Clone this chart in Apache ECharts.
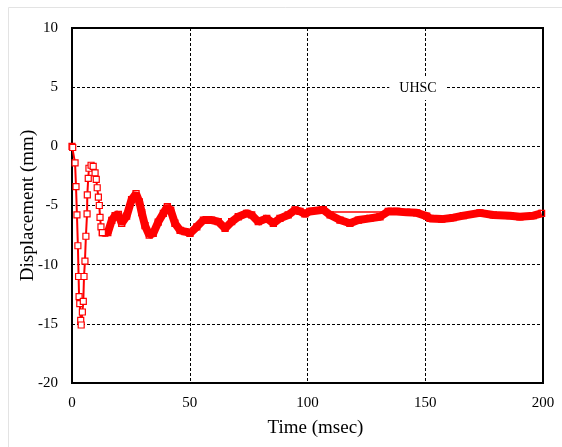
<!DOCTYPE html>
<html>
<head>
<meta charset="utf-8">
<script src="https://cdn.jsdelivr.net/npm/echarts@6/dist/echarts.min.js"></script>
<style>
  html, body { margin: 0; padding: 0; background: #fff; }
  #chart { width: 562px; height: 447px; }
</style>
</head>
<body>
<div id="chart"></div>
<script>
'use strict';

// early part: first big swing, thin line with hollow squares
const timeEarly = [0, 0.3, 1.3, 1.7, 2.1, 2.5, 2.8, 3.0, 3.3, 3.7, 3.9, 4.4, 4.8, 5.1, 5.5, 5.9, 6.4, 6.5, 6.9, 7.2, 8.1, 9.0, 9.8, 10.3, 10.7, 11.2, 11.6, 11.9, 12.3, 12.9];
const dispEarly = [0, -0.1, -1.4, -3.4, -5.8, -8.4, -11.0, -12.7, -13.3, -14.7, -15.1, -14.0, -13.1, -11.0, -9.7, -7.6, -5.7, -4.1, -2.7, -1.85, -1.6, -1.7, -2.25, -2.8, -3.5, -4.3, -5.0, -6.0, -6.8, -7.3];

// rest of the record: dense markers, drawn as a thick band
const timeLate = [12.9, 14, 15.2, 16.9, 18.3, 19.7, 21.1, 23.2, 25.3, 27.2, 28.6, 29.6, 31, 32.8, 34.5, 36.6, 38.8, 40.5, 41.9, 43.7, 45.9, 48, 50.1, 53, 55.8, 59.3, 62.1, 65, 67.8, 70.6, 74.2, 76.3, 79.1, 82.7, 85.5, 88.3, 91.8, 94.7, 96.8, 98.9, 101, 106.7, 109.6, 113.8, 118, 121.6, 126.5, 130.8, 134.3, 137.9, 142.1, 146.4, 150.6, 152, 157, 161.9, 166.2, 173.2, 178.9, 186, 190.2, 195.9, 199.4];
const dispLate = [-7.3, -7.3, -7.3, -6.25, -5.85, -5.75, -6.5, -5.9, -4.5, -4.0, -4.7, -5.6, -6.7, -7.5, -7.35, -6.4, -5.66, -5.1, -5.4, -6.5, -7.1, -7.2, -7.35, -6.8, -6.23, -6.23, -6.37, -6.93, -6.37, -5.95, -5.66, -5.8, -6.37, -6.09, -6.5, -6.09, -5.8, -5.38, -5.5, -5.7, -5.5, -5.36, -5.8, -6.23, -6.5, -6.23, -6.09, -5.95, -5.5, -5.5, -5.58, -5.62, -5.9, -6.09, -6.15, -6.03, -5.86, -5.62, -5.8, -5.86, -5.95, -5.86, -5.66];

// thin straight segment visible above the dip near 110-132 ms
const timeBridge = [110, 132];
const dispBridge = [-5.55, -5.55];

const xTicks = [0, 50, 100, 150, 200];
const yTicks = [-20, -15, -10, -5, 0, 5, 10];

const pairs = (xs, ys) => xs.map((x, i) => [x, ys[i]]);

const RED = '#ff0000';
const FONT = '"Liberation Serif", "Times New Roman", serif';

const chart = echarts.init(document.getElementById('chart'), null, { renderer: 'canvas' });

const option = {
  animation: false,
  backgroundColor: '#fff',
  grid: { left: 72, right: 19, top: 28, bottom: 64, show: true, borderColor: '#000', borderWidth: 2 },
  xAxis: {
    type: 'value',
    min: xTicks[0],
    max: xTicks[xTicks.length - 1],
    interval: 50,
    name: 'Time (msec)',
    nameLocation: 'middle',
    nameGap: 36,
    nameTextStyle: { fontFamily: FONT, fontSize: 19, color: '#000', padding: [0, 0, 0, 16] },
    axisLine: { show: true, onZero: false, lineStyle: { color: '#000', width: 2 } },
    axisTick: { show: false },
    axisLabel: { fontFamily: FONT, fontSize: 15, color: '#000', margin: 13 },
    splitLine: { show: true, lineStyle: { color: '#000', width: 1, type: [3, 2] } }
  },
  yAxis: {
    type: 'value',
    min: yTicks[0],
    max: yTicks[yTicks.length - 1],
    interval: 5,
    name: 'Displacement (mm)',
    nameLocation: 'middle',
    nameGap: 34,
    nameMoveOverlap: false,
    nameTextStyle: { fontFamily: FONT, fontSize: 19, color: '#000' },
    axisLine: { show: true, onZero: false, lineStyle: { color: '#000', width: 2 } },
    axisTick: { show: false },
    axisLabel: { fontFamily: FONT, fontSize: 15, color: '#000', margin: 14 },
    splitLine: { show: true, lineStyle: { color: '#000', width: 1, type: [3, 2] } }
  },
  graphic: [
    {
      type: 'rect',
      left: 6, top: 5,
      shape: { width: 600, height: 500 },
      style: { fill: 'none', stroke: '#e3e3e3', lineWidth: 1 },
      silent: true
    },
    {
      type: 'text',
      x: 418, y: 88,
      z: 100,
      style: {
        text: 'UHSC',
        font: '14px ' + FONT,
        fill: '#000',
        align: 'center',
        verticalAlign: 'middle',
        backgroundColor: '#fff',
        padding: [5, 10]
      }
    }
  ],
  series: [
    {
      type: 'line',
      data: pairs(timeBridge, dispBridge),
      symbol: 'none',
      lineStyle: { color: RED, width: 1.5 },
      z: 3
    },
    {
      type: 'line',
      data: pairs(timeLate, dispLate),
      symbol: 'rect',
      symbolSize: 6,
      itemStyle: { color: 'rgba(255,255,255,0)', borderColor: RED, borderWidth: 1.3 },
      lineStyle: { color: RED, width: 8 },
      z: 4
    },
    {
      type: 'line',
      data: pairs(timeEarly, dispEarly),
      symbol: 'rect',
      symbolSize: 6,
      itemStyle: { color: '#fff', borderColor: RED, borderWidth: 1.2 },
      lineStyle: { color: RED, width: 2 },
      z: 5
    }
  ]
};

chart.setOption(option);
</script>
</body>
</html>
